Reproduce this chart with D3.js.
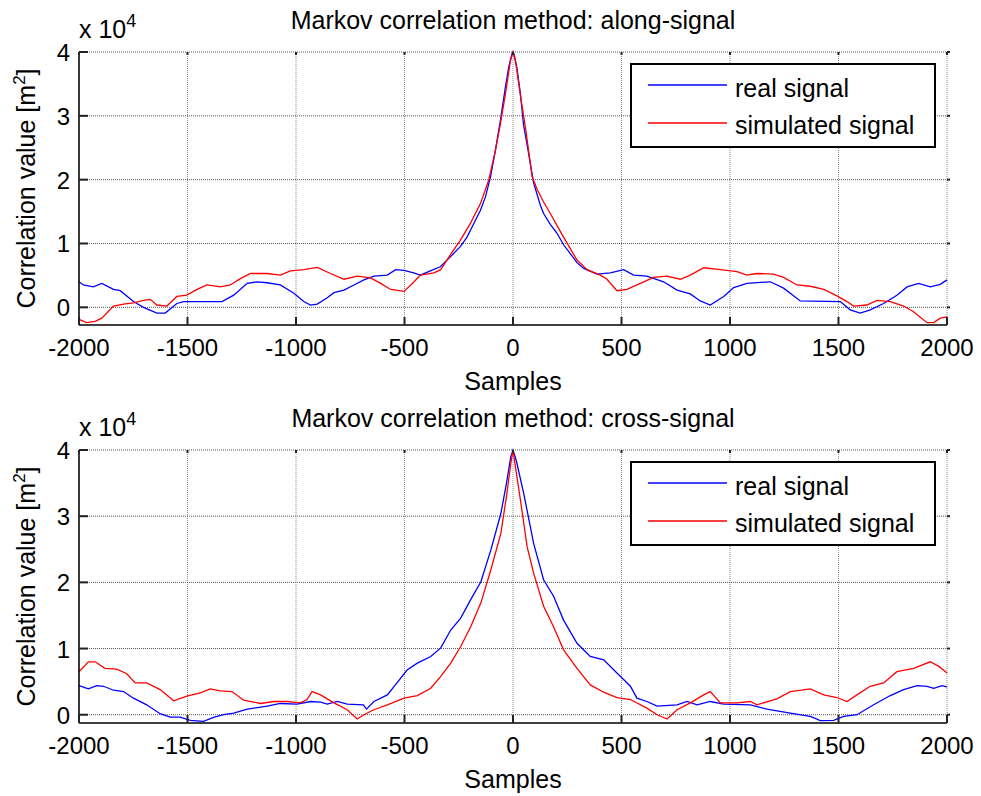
<!DOCTYPE html>
<html>
<head>
<meta charset="utf-8">
<script src="https://cdn.jsdelivr.net/npm/d3@7"></script>
<style>
body { margin: 0; background: #fff; }
text { font-family: "Liberation Sans", Arial, sans-serif; fill: #000; }
</style>
</head>
<body>
<script>
// values are in units of 10^4 (the axis shows "x 10^4")
var xTicks = [-2000, -1500, -1000, -500, 0, 500, 1000, 1500, 2000];
var yTicks = [0, 1, 2, 3, 4];
var legendNames = ["real signal", "simulated signal"];
var titles = ["Markov correlation method: along-signal", "Markov correlation method: cross-signal"];
var yMins = [-0.277, -0.125];

var alongReal = [[-2000,0.40],[-1980,0.35],[-1934,0.32],[-1895,0.375],[-1841,0.28],[-1810,0.26],[-1749,0.09],[-1703,0],
  [-1641,-0.09],[-1603,-0.09],[-1549,0.06],[-1518,0.09],[-1341,0.09],[-1287,0.19],[-1225,0.375],[-1179,0.40],
  [-1133,0.385],[-1072,0.35],[-1010,0.22],[-964,0.09],[-933,0.036],[-902,0.05],[-856,0.15],[-825,0.23],[-779,0.27],
  [-733,0.35],[-687,0.43],[-641,0.49],[-579,0.505],[-541,0.59],[-502,0.58],[-458,0.54],[-427,0.505],[-381,0.57],
  [-335,0.635],[-289,0.79],[-243,0.95],[-212,1.10],[-181,1.31],[-150,1.52],[-127,1.73],[-104,2.04],[-81,2.46],
  [-58,2.93],[-35,3.45],[-20,3.76],[-5,3.97],[0,4.0],
  [5,3.96],[18,3.75],[34,3.35],[49,2.85],[65,2.55],[95,1.95],[126,1.6],[141,1.47],[172,1.3],[203,1.16],[233,0.98],
  [264,0.84],[295,0.7],[326,0.61],[387,0.52],[449,0.54],[510,0.59],[556,0.505],[617,0.49],[694,0.40],[756,0.27],
  [817,0.21],[863,0.10],[909,0.036],[971,0.17],[1017,0.31],[1078,0.375],[1186,0.40],[1247,0.30],[1324,0.10],
  [1508,0.09],[1554,-0.04],[1600,-0.09],[1646,-0.04],[1708,0.06],[1769,0.19],[1816,0.32],[1869,0.375],[1923,0.32],
  [1969,0.36],[2000,0.43]];

var alongSim = [[-2000,-0.19],[-1965,-0.24],[-1926,-0.22],[-1895,-0.17],[-1841,0.02],[-1795,0.05],[-1749,0.07],
  [-1703,0.11],[-1672,0.125],[-1641,0.036],[-1595,0.02],[-1549,0.17],[-1503,0.19],[-1456,0.28],[-1410,0.35],
  [-1349,0.32],[-1303,0.35],[-1256,0.45],[-1210,0.53],[-1133,0.53],[-1072,0.505],[-1026,0.57],[-964,0.59],
  [-902,0.625],[-841,0.53],[-779,0.44],[-718,0.49],[-656,0.46],[-610,0.375],[-564,0.28],[-502,0.25],[-456,0.40],
  [-427,0.505],[-364,0.54],[-333,0.59],[-289,0.82],[-243,1.05],[-197,1.31],[-150,1.625],[-112,1.99],[-81,2.46],
  [-58,2.875],[-35,3.34],[-12,3.86],[0,4.0],
  [12,3.85],[35,3.3],[58,2.8],[88,2.05],[111,1.85],[141,1.65],[172,1.47],[203,1.28],[233,1.10],[264,0.92],
  [295,0.74],[341,0.59],[403,0.505],[433,0.44],[479,0.26],[525,0.28],[587,0.375],[648,0.47],[710,0.49],[771,0.44],
  [817,0.505],[879,0.62],[956,0.59],[1032,0.56],[1078,0.505],[1124,0.53],[1201,0.52],[1247,0.47],[1309,0.35],
  [1370,0.33],[1432,0.28],[1493,0.18],[1539,0.09],[1570,0.02],[1631,0.036],[1677,0.11],[1739,0.09],[1800,0.02],
  [1846,-0.07],[1908,-0.24],[1939,-0.24],[1969,-0.17],[2000,-0.15]];

var crossReal = [[-2000,0.44],[-1957,0.39],[-1918,0.44],[-1887,0.43],[-1841,0.37],[-1795,0.35],[-1749,0.25],
  [-1688,0.15],[-1626,0.015],[-1580,-0.035],[-1534,-0.035],[-1487,-0.085],[-1426,-0.10],[-1380,-0.04],[-1334,0],
  [-1287,0.025],[-1225,0.085],[-1133,0.13],[-1072,0.17],[-995,0.16],[-933,0.20],[-887,0.19],[-856,0.16],[-810,0.20],
  [-764,0.16],[-690,0.15],[-675,0.085],[-641,0.20],[-579,0.30],[-533,0.49],[-487,0.68],[-441,0.78],[-379,0.88],
  [-333,1.01],[-287,1.28],[-241,1.46],[-195,1.74],[-148,2.01],[-102,2.49],[-56,3.04],[-30,3.5],[-10,3.9],[0,4.0],
  [10,3.9],[18,3.8],[49,3.35],[95,2.59],[141,2.04],[187,1.79],[233,1.43],[295,1.08],[356,0.88],[418,0.83],
  [479,0.63],[541,0.43],[571,0.25],[617,0.20],[664,0.13],[756,0.15],[802,0.20],[848,0.15],[909,0.20],[971,0.16],
  [1094,0.15],[1170,0.085],[1278,0.025],[1370,-0.025],[1416,-0.09],[1478,-0.085],[1524,-0.025],[1585,0],
  [1662,0.15],[1739,0.29],[1800,0.38],[1862,0.44],[1908,0.43],[1939,0.40],[1977,0.44],[2000,0.42]];

var crossSim = [[-2000,0.65],[-1957,0.80],[-1926,0.80],[-1880,0.70],[-1826,0.69],[-1780,0.62],[-1741,0.48],
  [-1688,0.48],[-1626,0.38],[-1564,0.21],[-1503,0.28],[-1441,0.33],[-1395,0.39],[-1349,0.36],[-1295,0.35],
  [-1241,0.22],[-1164,0.17],[-1102,0.20],[-1041,0.20],[-980,0.18],[-949,0.23],[-926,0.35],[-887,0.30],[-825,0.18],
  [-764,0.075],[-718,-0.065],[-687,0],[-641,0.075],[-579,0.15],[-502,0.25],[-441,0.29],[-379,0.40],[-333,0.58],
  [-287,0.78],[-241,1.03],[-195,1.33],[-148,1.69],[-102,2.19],[-56,2.74],[-30,3.3],[-10,3.8],[0,4.0],
  [11,3.75],[34,3.25],[65,2.54],[95,2.14],[141,1.64],[187,1.33],[233,0.98],[295,0.70],[356,0.45],[418,0.34],
  [479,0.26],[541,0.23],[617,0.10],[664,0],[710,-0.065],[756,0.075],[817,0.18],[879,0.30],[909,0.35],[956,0.18],
  [1032,0.18],[1094,0.20],[1124,0.15],[1216,0.24],[1278,0.35],[1370,0.39],[1432,0.30],[1493,0.26],[1539,0.20],
  [1585,0.30],[1646,0.43],[1708,0.48],[1769,0.65],[1846,0.70],[1923,0.80],[1962,0.73],[2000,0.63]];

var panels = [
  {title: titles[0], real: alongReal, sim: alongSim, yMin: yMins[0], top: 52},
  {title: titles[1], real: crossReal, sim: crossSim, yMin: yMins[1], top: 450}
];

var width = 981;
var height = 796;
var left = 79;
var right = 947;
var plotH = 273;

var svg = d3.select("body")
    .append("svg")
    .attr("width", width)
    .attr("height", height);

var x = d3.scaleLinear().domain([-2000, 2000]).range([left, right]);

panels.forEach(function(p) {
  var y = d3.scaleLinear().domain([p.yMin, 4]).range([p.top + plotH, p.top]);
  var g = svg.append("g");

  // grid
  g.selectAll(".vgrid").data(xTicks).enter().append("line")
      .attr("x1", d => x(d)).attr("x2", d => x(d))
      .attr("y1", p.top).attr("y2", p.top + plotH)
      .attr("stroke", "#8c8c8c").attr("stroke-width", 1)
      .attr("stroke-dasharray", "1,1");
  g.selectAll(".hgrid").data(yTicks).enter().append("line")
      .attr("x1", left).attr("x2", right)
      .attr("y1", d => y(d)).attr("y2", d => y(d))
      .attr("stroke", "#555").attr("stroke-width", 1)
      .attr("stroke-dasharray", "1,1");

  // curves
  var line = d3.line().x(d => x(d[0])).y(d => y(d[1]));
  g.append("path").datum(p.real)
      .attr("d", line).attr("fill", "none")
      .attr("stroke", "#0000ff").attr("stroke-width", 1.3);
  g.append("path").datum(p.sim)
      .attr("d", line).attr("fill", "none")
      .attr("stroke", "#ff0000").attr("stroke-width", 1.3);

  // axes: left and bottom only, ticks inward
  var bottom = p.top + plotH;
  g.append("line").attr("x1", left).attr("x2", right).attr("y1", bottom).attr("y2", bottom)
      .attr("stroke", "#000").attr("stroke-width", 1.5);
  g.append("line").attr("x1", left).attr("x2", left).attr("y1", p.top).attr("y2", bottom)
      .attr("stroke", "#000").attr("stroke-width", 1.5);

  g.selectAll(".xtb").data(xTicks).enter().append("line")
      .attr("x1", d => x(d)).attr("x2", d => x(d))
      .attr("y1", bottom).attr("y2", bottom - 8)
      .attr("stroke", "#222").attr("stroke-width", 2);
  g.selectAll(".xtt").data(xTicks).enter().append("line")
      .attr("x1", d => x(d)).attr("x2", d => x(d))
      .attr("y1", p.top).attr("y2", p.top + 3)
      .attr("stroke", "#222").attr("stroke-width", 2);
  g.selectAll(".ytl").data(yTicks).enter().append("line")
      .attr("x1", left).attr("x2", left + 9)
      .attr("y1", d => y(d)).attr("y2", d => y(d))
      .attr("stroke", "#222").attr("stroke-width", 2);
  g.selectAll(".ytr").data(yTicks).enter().append("line")
      .attr("x1", right).attr("x2", right + 3)
      .attr("y1", d => y(d)).attr("y2", d => y(d))
      .attr("stroke", "#222").attr("stroke-width", 2);

  // tick labels
  g.selectAll(".xl").data(xTicks).enter().append("text")
      .attr("x", d => x(d)).attr("y", bottom + 31)
      .attr("text-anchor", "middle").attr("font-size", 24)
      .text(d => d);
  g.selectAll(".yl").data(yTicks).enter().append("text")
      .attr("x", left - 9).attr("y", d => y(d) + 9)
      .attr("text-anchor", "end").attr("font-size", 24)
      .text(d => d);

  // exponent
  var ex = g.append("text").attr("x", left).attr("y", p.top - 14).attr("font-size", 25);
  ex.append("tspan").text("x 10");
  ex.append("tspan").attr("font-size", 18).attr("dy", -11).text("4");

  // title and labels
  g.append("text").attr("x", (left + right) / 2).attr("y", p.top - 23)
      .attr("text-anchor", "middle").attr("font-size", 25).text(p.title);
  g.append("text").attr("x", (left + right) / 2).attr("y", bottom + 65)
      .attr("text-anchor", "middle").attr("font-size", 25).text("Samples");
  var yl = g.append("text")
      .attr("transform", "translate(35," + (p.top + plotH / 2) + ") rotate(-90)")
      .attr("text-anchor", "middle").attr("font-size", 25);
  yl.append("tspan").text("Correlation value [m");
  yl.append("tspan").attr("font-size", 17).attr("dy", -10).text("2");
  yl.append("tspan").attr("dy", 10).text("]");

  // legend
  var lx = 631, ly = p.top + 12;
  g.append("rect").attr("x", lx).attr("y", ly).attr("width", 304).attr("height", 83)
      .attr("fill", "#fff").attr("stroke", "#000").attr("stroke-width", 2);
  var colors = ["#0000ff", "#ff0000"];
  legendNames.forEach(function(name, i) {
    g.append("line").attr("x1", lx + 17).attr("x2", lx + 96)
        .attr("y1", ly + 21 + i * 38).attr("y2", ly + 21 + i * 38)
        .attr("stroke", colors[i]).attr("stroke-width", 1.3);
    g.append("text").attr("x", lx + 104).attr("y", ly + 33 + i * 37)
        .attr("font-size", 25).text(name);
  });
});
</script>
</body>
</html>
